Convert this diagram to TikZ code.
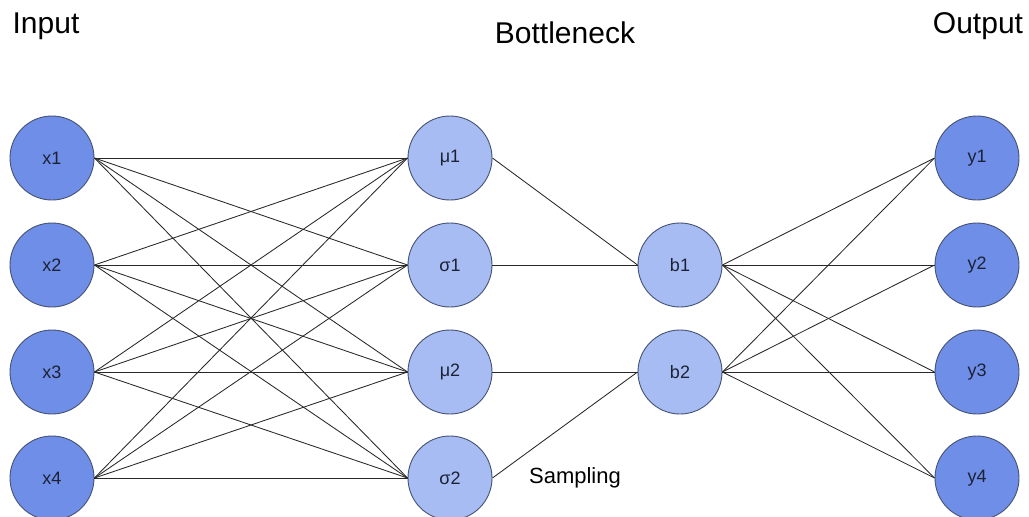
\documentclass[tikz,border=0pt]{standalone}
\usepackage{fontspec}
\setmainfont{Liberation Sans}
\definecolor{darknode}{RGB}{111,142,231}
\definecolor{lightnode}{RGB}{166,188,243}
\definecolor{nodeborder}{RGB}{70,82,115}
\definecolor{nodetext}{RGB}{28,34,52}
\definecolor{edgecol}{RGB}{40,40,40}
\begin{document}
\begin{tikzpicture}[x=1pt,y=-1pt,
  neuron/.style={circle, draw=nodeborder, line width=0.9pt, minimum size=84pt, inner sep=0pt,
    font=\fontsize{18}{20}\selectfont, text=nodetext},
  dark/.style={neuron, fill=darknode},
  light/.style={neuron, fill=lightnode},
  conn/.style={draw=edgecol, line width=0.85pt},
  title/.style={font=\fontsize{30}{34}\selectfont, text=black, inner sep=0pt}
]
\useasboundingbox (0,0) rectangle (1029,517);
\fill[white] (0,0) rectangle (1029,517);

\node[title] (tin) at (46,26) {Input};
\node[title] (tbn) at (565,33) {Bottleneck};
\node[title] (tout) at (978,26) {Output};

\foreach \i/\yy in {1/158,2/265,3/372,4/478}{
  \node[dark] (x\i) at (52,\yy) {x\i};
  \node[dark] (y\i) at (977,\yy) {y\i};
}
\node[light] (m1) at (450,158) {μ1};
\node[light] (s1) at (450,265) {σ1};
\node[light] (m2) at (450,372) {μ2};
\node[light] (s2) at (450,478) {σ2};
\node[light] (b1) at (680,265) {b1};
\node[light] (b2) at (680,372) {b2};

\node[font=\fontsize{22}{26}\selectfont, inner sep=0pt] (samp) at (575,478) {Sampling};

\foreach \i in {1,2,3,4}{
  \foreach \t in {m1,s1,m2,s2}{
    \draw[conn] (x\i.east) -- (\t.west);
  }
}
\draw[conn] (m1.east) -- (b1.west);
\draw[conn] (s1.east) -- (b1.west);
\draw[conn] (m2.east) -- (b2.west);
\draw[conn] (s2.east) -- (b2.west);
\foreach \i in {1,2,3,4}{
  \draw[conn] (b1.east) -- (y\i.west);
  \draw[conn] (b2.east) -- (y\i.west);
}
\end{tikzpicture}
\end{document}
